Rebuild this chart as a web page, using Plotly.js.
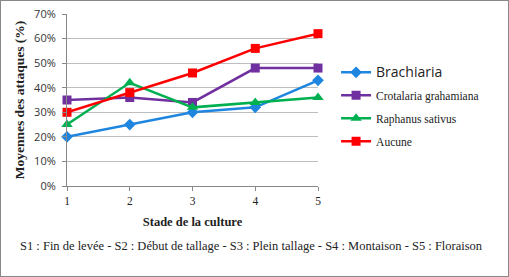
<!DOCTYPE html>
<html><head><meta charset="utf-8">
<script src="https://cdn.plot.ly/plotly-3.0.1.min.js"></script>
<style>
html,body{margin:0;padding:0;background:#fff;}
#wrap{position:relative;width:509px;height:277px;}
#chart{width:509px;height:277px;}
#border{position:absolute;left:0;top:0;width:507px;height:275px;border:1px solid #888;pointer-events:none;}
</style></head>
<body><div id="wrap"><div id="chart"></div><div id="border"></div></div>
<script>
const stages = [1, 2, 3, 4, 5];
const brachiaria = [0.20, 0.25, 0.30, 0.32, 0.43];
const crotalaria = [0.35, 0.36, 0.34, 0.48, 0.48];
const raphanus = [0.25, 0.42, 0.32, 0.34, 0.36];
const aucune = [0.30, 0.38, 0.46, 0.56, 0.62];
const yTicks = [0, 0.1, 0.2, 0.3, 0.4, 0.5, 0.6, 0.7];
const yTickText = ['0%', '10%', '20%', '30%', '40%', '50%', '60%', '70%'];

const serif = '"Liberation Serif", "DejaVu Serif", serif';
const sans = '"Open Sans", "Liberation Sans", sans-serif';

function tr(y, name, color, symbol, size, grp) {
  return {x: stages, y: y, name: name, type: 'scatter', mode: 'lines+markers',
    legendgroup: grp,
    line: {color: color, width: 2.5},
    marker: {color: color, symbol: symbol, size: size},
    cliponaxis: false};
}
const data = [
  tr(brachiaria, '<span style="font-family:\'Open Sans\';font-size:14px">Brachiaria</span>', '#1f86e0', 'diamond', 9, 'a'),
  tr(crotalaria, 'Crotalaria grahamiana', '#7030a0', 'square', 9, 'b'),
  tr(raphanus, 'Raphanus sativus', '#00b050', 'triangle-up', 10, 'c'),
  tr(aucune, 'Aucune', '#ff0000', 'square', 9, 'd')
];
const layout = {
  width: 509, height: 277,
  margin: {l: 67, r: 191, t: 14, b: 91},
  paper_bgcolor: '#fff', plot_bgcolor: '#fff',
  showlegend: true,
  legend: {x: 1.072, y: 0.745, xanchor: 'left', yanchor: 'top',
    font: {family: serif, size: 11.5, color: '#222'}, tracegroupgap: 4,
    itemwidth: 30},
  xaxis: {range: [1, 5], tickvals: stages, ticktext: stages.map(String),
    showgrid: false, zeroline: false, showline: true, linecolor: '#888', linewidth: 1,
    ticks: 'outside', ticklen: 4, tickcolor: '#888',
    tickfont: {family: serif, size: 11.5, color: '#222'},
    title: {text: '<b>Stade de la culture</b>', font: {family: serif, size: 12.5, color: '#222'}, standoff: 11},
    fixedrange: true},
  yaxis: {range: [0, 0.7], tickvals: yTicks, ticktext: yTickText,
    showgrid: true, gridcolor: '#bdbdbd', gridwidth: 1, zeroline: false,
    showline: true, linecolor: '#888', linewidth: 1,
    ticks: 'outside', ticklen: 4, tickcolor: '#888', ticklabelstandoff: 4,
    tickfont: {family: sans, size: 11, color: '#333'},
    title: {text: '<b>Moyennes des attaques (%)</b>', font: {family: serif, size: 13.5, color: '#222'}, standoff: 6},
    fixedrange: true},
  annotations: [{
    xref: 'paper', yref: 'paper', x: 0.737, y: -0.35, xanchor: 'center', yanchor: 'middle',
    showarrow: false, text: 'S1 : Fin de levée - S2 : Début de tallage - S3 : Plein tallage - S4 : Montaison - S5 : Floraison',
    font: {family: serif, size: 12.5, color: '#222'}
  }]
};
Plotly.newPlot('chart', data, layout, {displayModeBar: false, staticPlot: true});
</script></body></html>
